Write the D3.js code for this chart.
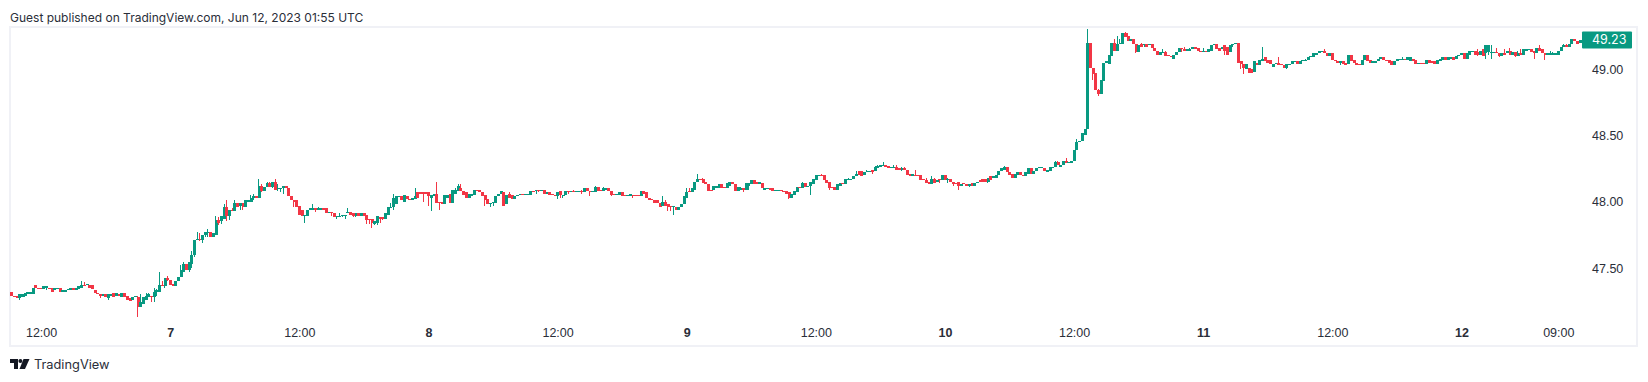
<!DOCTYPE html>
<html>
<head>
<meta charset="utf-8">
<title>TradingView chart</title>
<script src="https://cdn.jsdelivr.net/npm/d3@7"></script>
<style>
  html, body { margin: 0; padding: 0; background: #fff; }
  svg { display: block; font-family: Inter, 'Liberation Sans', sans-serif; }
  .tick text { fill: #2a2e39; font-size: 12.5px; }
</style>
</head>
<body>
<svg id="chart"></svg>
<script>
// 15 minute candles, 10 per row
const opens = [
  47.33,47.30,47.30,47.28,47.29,47.30,47.31,47.31,47.31,47.38,
  47.36,47.36,47.35,47.36,47.36,47.36,47.34,47.36,47.36,47.33,
  47.33,47.34,47.34,47.36,47.34,47.35,47.36,47.38,47.38,47.38,
  47.38,47.34,47.32,47.31,47.30,47.31,47.28,47.30,47.32,47.30,
  47.31,47.29,47.32,47.30,47.28,47.27,47.29,47.29,47.21,47.24,
  47.27,47.29,47.30,47.29,47.33,47.33,47.38,47.37,47.43,47.42,
  47.39,47.37,47.41,47.44,47.48,47.54,47.49,47.54,47.61,47.72,
  47.73,47.72,47.76,47.77,47.78,47.74,47.76,47.87,47.86,47.88,
  47.97,47.90,47.95,47.94,48.00,47.98,48.00,47.97,48.01,48.01,
  48.04,48.05,48.04,48.13,48.09,48.12,48.15,48.12,48.16,48.11,
  48.11,48.11,48.13,48.11,48.05,48.02,48.02,47.98,47.95,47.90,
  47.90,47.95,47.95,47.96,47.95,47.95,47.96,47.96,47.92,47.93,
  47.92,47.90,47.90,47.90,47.90,47.92,47.93,47.92,47.90,47.92,
  47.90,47.92,47.91,47.88,47.88,47.84,47.85,47.89,47.89,47.88,
  47.91,47.97,47.97,47.99,48.05,48.05,48.01,48.05,48.03,48.02,
  48.03,48.08,48.08,48.08,48.08,48.08,48.04,48.05,48.07,48.01,
  48.01,47.99,48.04,48.07,48.00,48.07,48.09,48.11,48.09,48.08,
  48.04,48.05,48.06,48.10,48.10,48.08,48.06,48.03,47.99,48.00,
  48.00,48.05,48.07,48.08,47.99,48.07,48.06,48.03,48.05,48.06,
  48.07,48.07,48.06,48.06,48.09,48.09,48.10,48.10,48.10,48.07,
  48.08,48.07,48.06,48.05,48.09,48.05,48.06,48.09,48.08,48.09,
  48.08,48.08,48.09,48.08,48.11,48.09,48.08,48.08,48.12,48.10,
  48.09,48.10,48.11,48.09,48.07,48.06,48.06,48.08,48.06,48.05,
  48.05,48.06,48.06,48.06,48.05,48.09,48.08,48.04,48.03,48.02,
  48.02,48.00,47.98,48.01,47.99,47.98,47.97,47.97,47.95,47.97,
  47.99,48.04,48.09,48.08,48.10,48.16,48.18,48.18,48.16,48.14,
  48.10,48.10,48.11,48.11,48.14,48.12,48.11,48.13,48.16,48.14,
  48.09,48.10,48.11,48.10,48.13,48.14,48.17,48.16,48.14,48.15,
  48.10,48.11,48.11,48.11,48.09,48.09,48.10,48.09,48.09,48.08,
  48.04,48.06,48.08,48.12,48.11,48.15,48.12,48.13,48.14,48.17,
  48.20,48.21,48.21,48.17,48.16,48.12,48.12,48.10,48.13,48.15,
  48.14,48.17,48.17,48.18,48.20,48.24,48.24,48.21,48.23,48.24,
  48.25,48.24,48.26,48.27,48.28,48.29,48.28,48.27,48.27,48.27,
  48.26,48.25,48.26,48.25,48.22,48.20,48.21,48.21,48.21,48.18,
  48.17,48.16,48.14,48.18,48.16,48.18,48.17,48.21,48.17,48.18,
  48.16,48.15,48.16,48.13,48.15,48.14,48.13,48.15,48.13,48.15,
  48.17,48.18,48.18,48.16,48.20,48.19,48.19,48.21,48.24,48.25,
  48.27,48.23,48.22,48.19,48.21,48.23,48.21,48.20,48.22,48.26,
  48.22,48.24,48.26,48.26,48.26,48.23,48.24,48.27,48.27,48.31,
  48.27,48.29,48.32,48.30,48.30,48.32,48.40,48.46,48.47,48.51,
  48.56,49.21,49.02,48.98,48.85,48.82,48.92,49.06,49.05,49.11,
  49.21,49.15,49.20,49.20,49.28,49.26,49.22,49.24,49.20,49.14,
  49.20,49.19,49.20,49.19,49.20,49.17,49.15,49.12,49.13,49.14,
  49.12,49.11,49.09,49.12,49.14,49.17,49.16,49.15,49.15,49.16,
  49.18,49.17,49.15,49.14,49.15,49.14,49.15,49.19,49.20,49.17,
  49.16,49.19,49.18,49.14,49.19,49.20,49.21,49.07,49.05,49.01,
  49.02,49.01,48.99,49.06,49.04,49.07,49.10,49.08,49.08,49.03,
  49.05,49.06,49.05,49.04,49.02,49.04,49.05,49.07,49.07,49.05,
  49.07,49.07,49.08,49.10,49.10,49.12,49.13,49.14,49.15,49.13,
  49.11,49.13,49.08,49.07,49.06,49.07,49.06,49.05,49.12,49.08,
  49.06,49.05,49.04,49.08,49.12,49.08,49.06,49.06,49.07,49.09,
  49.10,49.08,49.08,49.07,49.04,49.07,49.08,49.08,49.09,49.08,
  49.07,49.09,49.08,49.05,49.06,49.06,49.05,49.08,49.07,49.07,
  49.05,49.07,49.08,49.10,49.08,49.09,49.10,49.09,49.11,49.12,
  49.13,49.09,49.12,49.14,49.15,49.14,49.12,49.16,49.13,49.14,
  49.13,49.13,49.14,49.13,49.11,49.13,49.13,49.15,49.12,49.14,
  49.11,49.13,49.12,49.15,49.16,49.16,49.15,49.13,49.17,49.16,
  49.13,49.12,49.12,49.12,49.12,49.12,49.15,49.18,49.19,49.18,
  49.20,49.24,49.22,49.21
];
const closes = [
  47.30,47.29,47.28,47.31,47.31,47.32,47.33,47.33,47.36,47.36,
  47.35,47.35,47.37,47.37,47.35,47.33,47.36,47.36,47.33,47.34,
  47.34,47.35,47.36,47.34,47.36,47.37,47.38,47.37,47.39,47.36,
  47.35,47.32,47.31,47.30,47.31,47.29,47.31,47.31,47.29,47.32,
  47.30,47.32,47.29,47.27,47.26,47.29,47.30,47.21,47.25,47.29,
  47.30,47.31,47.29,47.33,47.34,47.38,47.37,47.43,47.42,47.38,
  47.37,47.41,47.44,47.49,47.54,47.49,47.55,47.61,47.72,47.73,
  47.72,47.76,47.78,47.78,47.74,47.77,47.87,47.85,47.90,47.97,
  47.90,47.95,47.94,48.00,47.97,48.00,47.97,48.02,48.02,48.04,
  48.05,48.04,48.13,48.09,48.12,48.15,48.12,48.16,48.10,48.11,
  48.11,48.13,48.11,48.05,48.02,48.01,47.97,47.91,47.90,47.91,
  47.95,47.96,47.96,47.95,47.96,47.96,47.95,47.92,47.93,47.92,
  47.89,47.90,47.90,47.91,47.91,47.93,47.91,47.90,47.92,47.90,
  47.92,47.90,47.87,47.87,47.85,47.86,47.90,47.88,47.88,47.92,
  47.97,47.97,48.04,48.05,48.05,48.02,48.06,48.03,48.02,48.04,
  48.05,48.04,48.07,48.07,48.07,48.05,48.06,48.07,48.00,48.00,
  47.99,48.06,48.06,48.00,48.10,48.10,48.13,48.09,48.06,48.04,
  48.07,48.07,48.10,48.09,48.08,48.05,48.02,47.99,48.00,48.01,
  48.05,48.07,48.09,47.98,48.06,48.04,48.03,48.05,48.06,48.07,
  48.06,48.07,48.07,48.09,48.08,48.10,48.09,48.10,48.07,48.08,
  48.06,48.06,48.05,48.08,48.06,48.06,48.09,48.08,48.09,48.08,
  48.09,48.09,48.08,48.11,48.09,48.08,48.09,48.12,48.09,48.09,
  48.11,48.11,48.09,48.06,48.06,48.07,48.08,48.05,48.05,48.06,
  48.07,48.05,48.05,48.05,48.09,48.07,48.04,48.02,48.02,48.00,
  48.00,47.97,48.01,47.98,47.97,47.97,47.98,47.95,47.97,47.99,
  48.05,48.08,48.08,48.11,48.16,48.18,48.17,48.15,48.14,48.09,
  48.09,48.13,48.13,48.14,48.11,48.11,48.15,48.16,48.14,48.09,
  48.12,48.11,48.10,48.15,48.15,48.17,48.14,48.14,48.16,48.11,
  48.11,48.11,48.10,48.09,48.10,48.10,48.09,48.08,48.07,48.04,
  48.07,48.09,48.12,48.11,48.15,48.12,48.13,48.16,48.18,48.21,
  48.21,48.20,48.17,48.15,48.11,48.11,48.10,48.14,48.15,48.14,
  48.18,48.18,48.18,48.20,48.22,48.21,48.20,48.23,48.24,48.24,
  48.23,48.27,48.28,48.29,48.29,48.27,48.26,48.27,48.27,48.25,
  48.25,48.26,48.25,48.21,48.20,48.22,48.20,48.20,48.17,48.17,
  48.15,48.14,48.18,48.15,48.17,48.17,48.21,48.17,48.18,48.16,
  48.14,48.14,48.13,48.14,48.14,48.13,48.14,48.13,48.15,48.16,
  48.16,48.16,48.16,48.19,48.17,48.20,48.21,48.24,48.26,48.27,
  48.23,48.21,48.19,48.22,48.23,48.21,48.20,48.23,48.26,48.22,
  48.24,48.26,48.27,48.27,48.24,48.25,48.27,48.27,48.31,48.29,
  48.29,48.32,48.30,48.31,48.32,48.40,48.46,48.47,48.53,48.56,
  49.21,49.02,48.97,48.85,48.82,48.93,49.06,49.07,49.12,49.21,
  49.15,49.20,49.21,49.28,49.25,49.22,49.24,49.20,49.14,49.19,
  49.18,49.20,49.18,49.20,49.17,49.15,49.12,49.14,49.14,49.11,
  49.11,49.10,49.12,49.14,49.17,49.16,49.15,49.16,49.16,49.18,
  49.16,49.15,49.14,49.15,49.14,49.16,49.19,49.20,49.16,49.15,
  49.18,49.15,49.12,49.19,49.20,49.21,49.06,49.05,49.02,49.05,
  48.98,48.98,49.07,49.04,49.08,49.09,49.07,49.06,49.05,49.05,
  49.06,49.04,49.04,49.02,49.05,49.05,49.07,49.07,49.05,49.07,
  49.08,49.08,49.10,49.11,49.13,49.13,49.15,49.15,49.13,49.11,
  49.13,49.08,49.07,49.06,49.07,49.05,49.04,49.12,49.07,49.06,
  49.04,49.04,49.08,49.12,49.07,49.06,49.07,49.07,49.09,49.10,
  49.08,49.07,49.06,49.04,49.07,49.09,49.09,49.09,49.08,49.10,
  49.10,49.07,49.05,49.06,49.05,49.05,49.08,49.06,49.06,49.05,
  49.08,49.09,49.10,49.08,49.10,49.10,49.08,49.11,49.12,49.13,
  49.09,49.13,49.15,49.15,49.12,49.12,49.15,49.11,49.19,49.19,
  49.14,49.14,49.13,49.11,49.13,49.12,49.15,49.12,49.14,49.11,
  49.13,49.12,49.16,49.16,49.16,49.14,49.13,49.17,49.15,49.13,
  49.12,49.13,49.13,49.13,49.13,49.15,49.18,49.19,49.18,49.20,
  49.24,49.22,49.20,49.23
];
// only the candles whose wick sticks out of the body: [candle, price]
const highWicks = [
  [26,47.41],[27,47.40],[47,47.30],[48,47.31],[50,47.32],[51,47.32],[53,47.355],[54,47.35],[55,47.48],[56,47.41],
  [58,47.45],[63,47.53],[64,47.55],[67,47.64],[69,47.78],[70,47.77],[73,47.80],[76,47.90],[77,47.89],[79,47.99],
  [80,48.02],[82,47.96],[83,48.02],[89,48.06],[90,48.07],[92,48.18],[93,48.14],[95,48.16],[96,48.16],[98,48.18],
  [99,48.14],[112,47.99],[114,47.97],[122,47.92],[125,47.96],[141,48.00],[142,48.07],[150,48.11],[158,48.16],
  [165,48.11],[166,48.14],[167,48.14],[185,48.08],[195,48.10],[209,48.10],[212,48.10],[217,48.13],[220,48.12],
  [242,48.05],[243,48.02],[251,48.11],[252,48.11],[255,48.22],[257,48.19],[271,48.12],[294,48.16],[301,48.22],
  [311,48.19],[314,48.24],[318,48.25],[321,48.28],[322,48.29],[324,48.31],[328,48.29],[329,48.29],[331,48.27],
  [332,48.27],[336,48.25],[340,48.19],[342,48.20],[343,48.19],[348,48.19],[369,48.28],[388,48.32],[389,48.32],
  [392,48.34],[396,48.48],[400,49.31],[404,48.86],[410,49.24],[411,49.26],[412,49.24],[414,49.29],[415,49.28],
  [420,49.21],[428,49.16],[429,49.15],[435,49.17],[436,49.18],[438,49.17],[441,49.17],[443,49.17],[465,49.18],
  [471,49.10],[481,49.09],[488,49.16],[517,49.10],[539,49.13],[545,49.16],[548,49.19],[550,49.19],[552,49.17],
  [555,49.16],[557,49.17],[560,49.15],[561,49.16],[568,49.19],[572,49.15],[573,49.14],[577,49.20],[578,49.20]
];
const lowWicks = [
  [3,47.27],[5,47.29],[11,47.35],[13,47.34],[33,47.28],[36,47.27],[47,47.14],[52,47.25],[53,47.25],[54,47.30],
  [57,47.36],[58,47.41],[66,47.48],[67,47.51],[68,47.59],[70,47.71],[71,47.70],[72,47.74],[73,47.74],[77,47.83],
  [78,47.84],[80,47.86],[81,47.87],[85,47.95],[86,47.95],[90,48.02],[93,48.08],[97,48.11],[99,48.09],[100,48.08],
  [101,48.07],[105,47.97],[109,47.85],[113,47.93],[119,47.90],[121,47.88],[123,47.89],[124,47.88],[127,47.89],
  [128,47.89],[132,47.84],[133,47.84],[134,47.81],[135,47.83],[136,47.83],[137,47.85],[138,47.87],[142,47.95],
  [153,48.01],[155,47.98],[156,47.94],[159,47.95],[176,47.98],[178,47.97],[179,47.98],[195,48.07],[196,48.08],
  [203,48.03],[204,48.04],[205,48.04],[207,48.07],[212,48.07],[215,48.05],[223,48.05],[231,48.04],[244,47.94],
  [245,47.94],[246,47.91],[272,48.08],[274,48.10],[289,48.03],[297,48.06],[304,48.10],[320,48.22],[327,48.26],
  [331,48.24],[345,48.15],[348,48.15],[350,48.13],[352,48.10],[356,48.12],[363,48.15],[402,48.93],[404,48.81],
  [411,49.15],[418,49.13],[421,49.18],[435,49.14],[451,49.12],[454,49.18],[457,49.01],[458,48.97],[474,49.01],
  [494,49.04],[523,49.05],[545,49.11],[547,49.11],[548,49.09],[549,49.12],[550,49.09],[553,49.10],[559,49.10],
  [566,49.09],[570,49.08]
];
const tickCandles = [11, 59, 107, 155, 203, 251, 299, 347, 395, 443, 491, 539, 575];
const tickLabels = ['12:00', '7', '12:00', '8', '12:00', '9', '12:00', '10', '12:00', '11', '12:00', '12', '09:00'];
const priceTicks = [47.5, 48, 48.5, 49];
const lastPrice = 49.23;

const width = 1648;
const height = 382;
const upColor = '#089981';
const downColor = '#f23645';
const borderColor = '#f0f1f6';

const svg = d3.select('#chart')
  .attr('width', width)
  .attr('height', height);

const highByCandle = new Map(highWicks);
const lowByCandle = new Map(lowWicks);

const candles = closes.map((close, i) => {
  const open = opens[i];
  return {
    i: i,
    open: open,
    close: close,
    high: highByCandle.has(i) ? highByCandle.get(i) : Math.max(open, close),
    low: lowByCandle.has(i) ? lowByCandle.get(i) : Math.min(open, close)
  };
});

const xScale = d3.scaleLinear()
  .domain([0, 583])
  .range([11.5, 1579.8]);

const yScale = d3.scaleLinear()
  .domain([47.5, 49])
  .range([269.1, 70.5]);

// frame
svg.append('rect')
  .attr('x', 10)
  .attr('y', 27)
  .attr('width', 1627)
  .attr('height', 319)
  .attr('fill', 'none')
  .attr('stroke', borderColor)
  .attr('stroke-width', 2);

// axes
const xAxis = d3.axisBottom(xScale)
  .tickValues(tickCandles)
  .tickFormat((d, i) => tickLabels[i])
  .tickSize(0)
  .tickPadding(0);

const xAxisG = svg.append('g')
  .attr('transform', 'translate(0,327)')
  .call(xAxis);
xAxisG.select('.domain').remove();
xAxisG.selectAll('text')
  .attr('y', 0)
  .attr('dy', '0.8em')
  .style('font-weight', (d, i) => isNaN(+tickLabels[i]) ? 400 : 700);

const yAxis = d3.axisRight(yScale)
  .tickValues(priceTicks)
  .tickFormat(d3.format('.2f'))
  .tickSize(0)
  .tickPadding(0);

const yAxisG = svg.append('g')
  .attr('transform', 'translate(1592,-1)')
  .call(yAxis);
yAxisG.select('.domain').remove();

// candles, snapped to whole pixels so they stay solid
const candleG = svg.selectAll('.candle').data(candles)
  .enter().append('g')
  .attr('class', 'candle')
  .attr('fill', d => d.close >= d.open ? upColor : downColor)
  .attr('stroke', 'none');

candleG.append('rect')
  .attr('x', d => Math.round(xScale(d.i) - 0.5))
  .attr('width', 1)
  .attr('y', d => Math.round(yScale(d.high)))
  .attr('height', d => Math.max(1, Math.round(yScale(d.low)) - Math.round(yScale(d.high))));

candleG.append('rect')
  .attr('x', d => Math.round(xScale(d.i) - 1.3))
  .attr('width', 3)
  .attr('y', d => Math.round(yScale(Math.max(d.open, d.close))))
  .attr('height', d => Math.max(1, Math.round(yScale(Math.min(d.open, d.close))) - Math.round(yScale(Math.max(d.open, d.close)))));

// last price label
svg.append('rect')
  .attr('x', 1582)
  .attr('y', yScale(lastPrice) - 8.5)
  .attr('width', 50)
  .attr('height', 17)
  .attr('rx', 1)
  .attr('fill', upColor);

svg.append('text')
  .attr('x', 1592)
  .attr('y', yScale(lastPrice))
  .attr('dy', '0.35em')
  .attr('fill', '#ffffff')
  .style('font-size', '12.5px')
  .text(d3.format('.2f')(lastPrice));

// header and logo
svg.append('text')
  .attr('x', 10)
  .attr('y', 22)
  .attr('fill', '#2a2e39')
  .style('font-size', '12px')
  .text('Guest published on TradingView.com, Jun 12, 2023 01:55 UTC');

const logo = svg.append('g')
  .attr('transform', 'translate(10,359)')
  .attr('fill', '#131722');
logo.append('path').attr('d', 'M0 0H8V10H4V4H0Z');
logo.append('circle').attr('cx', 10.4).attr('cy', 2).attr('r', 2);
logo.append('path').attr('d', 'M13.5 0H19.5L15 10H9.5Z');

svg.append('text')
  .attr('x', 34)
  .attr('y', 369)
  .attr('fill', '#2a2e39')
  .style('font-size', '12.8px')
  .text('TradingView');
</script>
</body>
</html>
